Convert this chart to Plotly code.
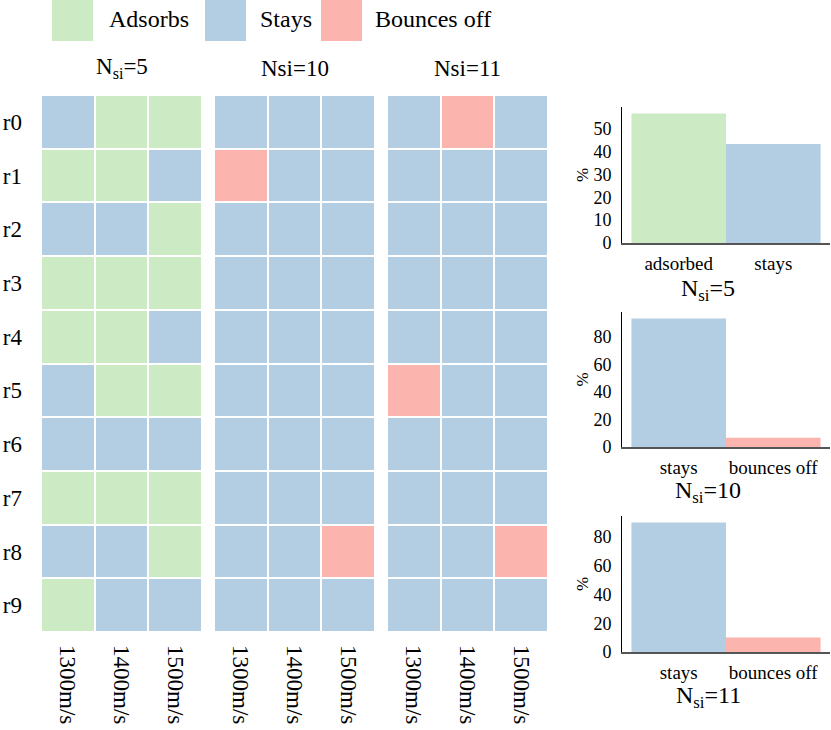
import plotly.graph_objects as go

# outcome per row / speed: A = adsorbs, S = stays, B = bounces off
speeds = ["1300m/s", "1400m/s", "1500m/s"]
rows = ["r0", "r1", "r2", "r3", "r4", "r5", "r6", "r7", "r8", "r9"]

grid_nsi5 = ["SAA", "AAS", "SSA", "AAA", "AAS", "SAA", "SSS", "AAA", "SSA", "ASS"]
grid_nsi10 = ["SSS", "BSS", "SSS", "SSS", "SSS", "SSS", "SSS", "SSS", "SSB", "SSS"]
grid_nsi11 = ["SBS", "SSS", "SSS", "SSS", "SSS", "BSS", "SSS", "SSS", "SSB", "SSS"]

panel_titles = ["N<sub>si</sub>=5", "Nsi=10", "Nsi=11"]

# percentages shown in the bar panels
bar5_labels = ["adsorbed", "stays"]
bar5_values = [56.7, 43.3]
bar10_labels = ["stays", "bounces off"]
bar10_values = [93.3, 6.7]
bar11_labels = ["stays", "bounces off"]
bar11_values = [90.0, 10.0]

legend_labels = ["Adsorbs", "Stays", "Bounces off"]

RED, BLUE, GREEN = "#fbb4ae", "#b3cde3", "#ccebc5"
code = {"B": 0, "S": 1, "A": 2}
FONT = "'Liberation Serif', 'Times New Roman', serif"

W, H = 831, 730


def px_x(a, b):
    return [a / W, b / W]


def px_y(top, bottom):
    return [1 - bottom / H, 1 - top / H]


def note(x, y, text, size, xanchor="center"):
    fig.add_annotation(x=x / W, y=1 - y / H, xref="paper", yref="paper",
                       xanchor=xanchor, yanchor="middle", text=text,
                       showarrow=False, font=dict(size=size))


fig = go.Figure()

colorscale = [[0, RED], [1 / 3, RED], [1 / 3, BLUE], [2 / 3, BLUE], [2 / 3, GREEN], [1, GREEN]]
heat_x = [(41, 202), (214, 375), (387, 548)]
grids = [grid_nsi5, grid_nsi10, grid_nsi11]

for i, (g, (x0, x1)) in enumerate(zip(grids, heat_x)):
    n = i + 1
    z = [[code[c] for c in r] for r in g]
    fig.add_trace(go.Heatmap(
        z=z, x=speeds, y=rows, colorscale=colorscale, zmin=0, zmax=2,
        showscale=False, xgap=2, ygap=2,
        xaxis=f"x{n}", yaxis=f"y{n}", hoverinfo="skip",
    ))
    fig.update_layout(**{
        f"xaxis{n}": dict(domain=px_x(x0, x1), anchor=f"y{n}", tickangle=90,
                          showgrid=False, zeroline=False, ticks="", automargin=False,
                          ticklabelstandoff=12, tickfont=dict(size=23)),
        f"yaxis{n}": dict(domain=px_y(95, 632), anchor=f"x{n}", autorange="reversed",
                          showgrid=False, zeroline=False, ticks="", automargin=False,
                          showticklabels=(n == 1), ticklabelstandoff=18,
                          tickfont=dict(size=23)),
    })
    note((x0 + x1) / 2, 68, panel_titles[i], 23)

bar_sets = [
    (bar5_labels, bar5_values, [GREEN, BLUE], (107, 243), [0, 59.5], 10, "N<sub>si</sub>=5", 290),
    (bar10_labels, bar10_values, [BLUE, RED], (312, 447), [0, 98], 20, "N<sub>si</sub>=10", 492),
    (bar11_labels, bar11_values, [BLUE, RED], (516, 652), [0, 94.5], 20, "N<sub>si</sub>=11", 697),
]

for j, (labels, vals, cols, (top, bot), rng, dt, title, ty) in enumerate(bar_sets):
    n = 4 + j
    fig.add_trace(go.Bar(
        x=[0, 1], y=vals, width=1, marker=dict(color=cols, line=dict(width=0)),
        xaxis=f"x{n}", yaxis=f"y{n}", hoverinfo="skip",
    ))
    fig.update_layout(**{
        f"xaxis{n}": dict(domain=px_x(622, 830), anchor=f"y{n}", range=[-0.6, 1.6],
                          tickvals=[0, 1], ticktext=labels, showgrid=False, zeroline=False,
                          showline=True, linecolor="#555", linewidth=1.5, ticks="",
                          automargin=False, ticklabelstandoff=2, tickfont=dict(size=19)),
        f"yaxis{n}": dict(domain=px_y(top, bot), anchor=f"x{n}", range=rng, dtick=dt,
                          showgrid=False, zeroline=False, showline=True, linecolor="black",
                          linewidth=1, ticks="", tickfont=dict(size=18), automargin=False,
                          ticklabelstandoff=6,
                          title=dict(text="%", font=dict(size=17), standoff=0)),
    })
    note(708, ty, title, 24)

# legend drawn as boxes + labels
legend_boxes = [(52, 93, GREEN), (205, 246, BLUE), (321, 362, RED)]
legend_text_x = [107, 258, 373]
for (a, b, c), lab, tx in zip(legend_boxes, legend_labels, legend_text_x):
    fig.add_shape(type="rect", xref="paper", yref="paper", x0=a / W, x1=b / W,
                  y0=1 - 41 / H, y1=1, fillcolor=c, line=dict(width=0))
    note(tx, 19, lab, 24, xanchor="left")

fig.update_layout(
    width=W, height=H, margin=dict(l=0, r=0, t=0, b=0),
    paper_bgcolor="white", plot_bgcolor="white", showlegend=False,
    font=dict(family=FONT, color="black"),
)

# drop the page's default body margin so the figure sits at the window corner
fig.write_html("out.html", config={"displayModeBar": False},
               post_script="document.body.style.margin='0';")
